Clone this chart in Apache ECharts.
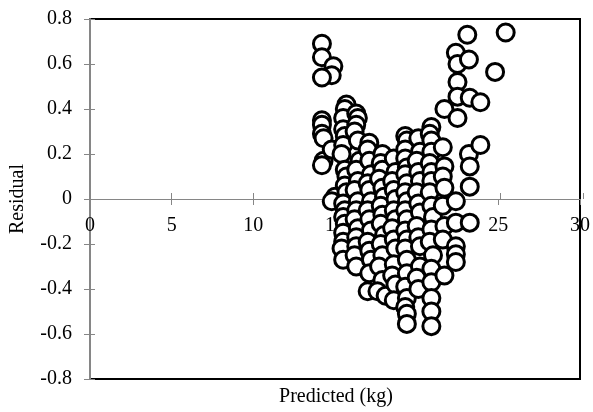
<!doctype html>
<html lang="en">
<head>
    <meta charset="utf-8">
    <title>residual-plot</title>
    <script src="https://cdn.jsdelivr.net/npm/echarts@6/dist/echarts.min.js"></script>
    <style>
        *{margin:0;padding:0}
        html,body{width:100%;height:100%;background:#fff}
        #main{width:593px;height:412px}
    </style>
</head>
<body>
<div id="main"></div>
<script type="text/javascript">
    // predicted (kg) vs residual
    var predicted = [
        14.2,14.2,14.9,14.8,14.2,14.2,14.2,14.2,14.3,14.3,14.2,14.8,15.0,14.8,
        15.7,15.6,15.5,15.5,15.6,15.5,15.4,15.6,15.7,15.6,15.7,15.5,15.6,15.5,15.6,15.5,15.5,15.4,15.5,
        16.3,16.4,16.3,16.2,16.4,16.5,16.3,16.4,16.2,16.4,16.3,16.2,16.4,16.3,16.3,16.2,16.3,
        17.1,17.0,17.1,17.2,17.0,17.1,17.2,17.0,17.1,17.2,17.0,17.1,17.2,17.1,17.0,
        17.9,17.8,17.9,17.7,17.9,18.0,17.8,17.9,17.8,18.0,17.8,17.9,17.7,17.9,17.6,18.1,
        18.6,18.7,18.5,18.6,18.7,18.6,18.7,18.5,18.6,18.7,18.6,18.5,18.7,18.6,
        19.3,19.4,19.3,19.3,19.4,19.3,19.4,19.3,19.4,19.3,19.4,19.3,19.4,19.3,19.4,19.4,19.3,19.4,19.3,19.4,19.4,
        20.1,20.2,20.0,20.1,20.2,20.0,20.1,20.2,20.0,20.1,20.2,20.2,20.0,20.1,
        20.9,20.8,20.9,20.9,20.8,20.9,20.9,20.8,20.9,21.0,20.9,20.8,21.0,20.9,20.9,20.9,20.9,20.9,
        21.7,21.6,21.7,21.6,21.7,21.6,21.7,21.6,21.7,
        22.4,22.5,22.5,22.5,22.5,22.4,22.4,22.4,22.4,22.4,
        23.1,23.2,23.25,23.2,23.25,23.25,23.25,
        23.9,23.9,24.8,25.45
    ];
    var residual = [
        0.69,0.63,0.59,0.55,0.54,0.35,0.33,0.29,0.27,0.17,0.15,0.22,0.01,-0.01,
        0.42,0.40,0.36,0.31,0.28,0.24,0.20,0.13,0.10,0.06,0.03,-0.02,-0.05,-0.08,-0.11,-0.15,-0.19,-0.22,-0.27,
        0.38,0.36,0.33,0.30,0.26,0.17,0.13,0.08,0.04,-0.01,-0.05,-0.09,-0.13,-0.17,-0.21,-0.25,-0.30,
        0.25,0.22,0.17,0.11,0.07,0.04,-0.01,-0.05,-0.09,-0.14,-0.19,-0.23,-0.27,-0.33,-0.41,
        0.20,0.16,0.13,0.09,0.05,0.01,-0.03,-0.07,-0.11,-0.16,-0.20,-0.25,-0.30,-0.36,-0.41,-0.43,
        0.18,0.12,0.08,0.04,0.00,-0.05,-0.09,-0.13,-0.18,-0.22,-0.29,-0.34,-0.38,-0.45,
        0.28,0.26,0.22,0.18,0.14,0.11,0.07,0.03,-0.01,-0.05,-0.09,-0.14,-0.18,-0.22,-0.27,-0.33,-0.39,-0.44,-0.48,-0.51,-0.555,
        0.27,0.21,0.17,0.12,0.08,0.03,-0.02,-0.06,-0.12,-0.17,-0.21,-0.30,-0.35,-0.40,
        0.32,0.29,0.26,0.21,0.16,0.12,0.08,0.03,-0.03,-0.08,-0.135,-0.19,-0.25,-0.31,-0.37,-0.44,-0.50,-0.565,
        0.40,0.23,0.145,0.10,0.05,-0.03,-0.12,-0.18,-0.34,
        0.65,0.60,0.52,0.455,0.36,-0.01,-0.105,-0.21,-0.245,-0.28,
        0.73,0.62,0.45,0.20,0.145,0.055,-0.105,
        0.43,0.24,0.565,0.74
    ];
    var xTicks = [0, 30, 5];      // min, max, step
    var yTicks = [-0.8, 0.8, 0.2];

    var points = predicted.map(function(p, i){ return [p, residual[i]]; });

    var font = 'Liberation Serif, Times New Roman, serif';
    var grey = '#868686';
    var box = {left: 89, right: 10, top: 19, bottom: 33};
    // x axis sits on residual 0, half way up the 360px plot
    var zeroShift = -180;

    var myChart = echarts.init(document.getElementById('main'));
    var option = {
        animation: false,
        textStyle: {fontFamily: font},
        grid: [
            Object.assign({show: true, borderColor: '#000', borderWidth: 2, backgroundColor: '#fff'}, box),
            // same box again, only carries the inward half of the crossing ticks
            Object.assign({show: false}, box)
        ],
        xAxis: [{
            gridIndex: 0, type: 'value', min: xTicks[0], max: xTicks[1], interval: xTicks[2],
            offset: zeroShift,
            axisLine: {onZero: false, lineStyle: {color: grey, width: 1}},
            axisTick: {show: true, length: 6, lineStyle: {color: grey}},
            axisLabel: {color: '#000', fontSize: 20, fontFamily: font, margin: 17},
            splitLine: {show: false}
        }, {
            gridIndex: 1, type: 'value', min: xTicks[0], max: xTicks[1], interval: xTicks[2],
            offset: zeroShift,
            axisLine: {show: false, onZero: false},
            axisTick: {show: true, inside: true, length: 6, lineStyle: {color: grey}},
            axisLabel: {show: false},
            splitLine: {show: false}
        }],
        yAxis: [{
            gridIndex: 0, type: 'value', min: yTicks[0], max: yTicks[1], interval: yTicks[2],
            name: 'Residual', nameLocation: 'middle', nameRotate: 90, nameGap: 62,
            nameTextStyle: {color: '#000', fontSize: 20, fontFamily: font},
            axisLine: {show: true, onZero: false, lineStyle: {color: grey, width: 2}},
            axisTick: {show: true, length: 6, lineStyle: {color: grey}},
            axisLabel: {color: '#000', fontSize: 20, fontFamily: font, margin: 18,
                formatter: function(v){ return String(Math.round(v * 10) / 10); }},
            splitLine: {show: false}
        }, {
            gridIndex: 1, type: 'value', min: yTicks[0], max: yTicks[1], interval: yTicks[2],
            axisLine: {show: false, onZero: false},
            axisTick: {show: true, inside: true, length: 6, lineStyle: {color: grey}},
            axisLabel: {show: false},
            splitLine: {show: false}
        }],
        graphic: [{
            type: 'text', x: 336, y: 387,
            style: {text: 'Predicted (kg)', fill: '#000', font: '20px ' + font,
                    align: 'center', verticalAlign: 'top'}
        }],
        series: [{
            type: 'scatter',
            xAxisIndex: 0, yAxisIndex: 0,
            symbol: 'circle',
            symbolSize: 17,
            z: 5,
            itemStyle: {color: '#fff', borderColor: '#000', borderWidth: 3, opacity: 1},
            data: points
        }]
    };
    myChart.setOption(option);
</script>
</body>
</html>
